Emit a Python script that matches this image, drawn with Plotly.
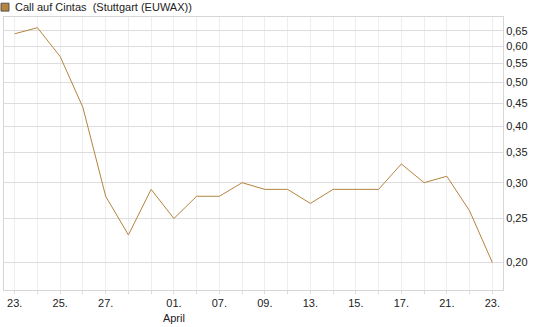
import plotly.graph_objects as go
import math

x_labels = ["23.", "", "25.", "", "27.", "", "", "01.<br>April", "", "07.", "", "09.", "", "13.", "", "15.", "", "17.", "", "21.", "", "23."]
values = [0.64, 0.66, 0.57, 0.44, 0.28, 0.23, 0.29, 0.25, 0.28, 0.28, 0.30, 0.29,
          0.29, 0.27, 0.29, 0.29, 0.29, 0.33, 0.30, 0.31, 0.26, 0.20]
y_ticks = [0.20, 0.25, 0.30, 0.35, 0.40, 0.45, 0.50, 0.55, 0.60, 0.65]
y_ticktext = [f"{v:.2f}".replace(".", ",") for v in y_ticks]
series_name = "Call auf Cintas  (Stuttgart (EUWAX))"

xs = list(range(len(values)))

fig = go.Figure()
fig.add_trace(go.Scatter(x=xs, y=values, mode="lines",
                         line=dict(color="#b5843f", width=1),
                         showlegend=False, hoverinfo="skip"))

fig.update_layout(
    width=545, height=327,
    margin=dict(l=3, r=42, t=17, b=33),
    paper_bgcolor="white", plot_bgcolor="white",
    font=dict(family="Liberation Sans, Arial, sans-serif", size=11, color="#222222"),
    showlegend=False,
)
fig.update_xaxes(
    range=[-0.47, len(values) - 1 + 0.47],
    tickmode="array", tickvals=xs, ticktext=x_labels,
    showgrid=True, gridcolor="#eeeeee", gridwidth=1,
    ticks="outside", ticklen=3, tickcolor="#dddddd",
    showline=True, linecolor="#d6d6d6", linewidth=1, mirror=True,
    zeroline=False, tickfont=dict(size=11),
)
fig.update_yaxes(
    type="log", side="right",
    range=[math.log10(0.1738), math.log10(0.697)],
    tickmode="array", tickvals=y_ticks, ticktext=y_ticktext,
    showgrid=True, gridcolor="#dddddd", gridwidth=1,
    showline=True, linecolor="#d6d6d6", linewidth=1, mirror=True,
    ticks="", zeroline=False, tickfont=dict(size=11),
)

# legend marker and text
fig.add_shape(type="rect", xref="paper", yref="paper",
              x0=-3/500, x1=5/500, y0=1 + (17 - 11) / 277, y1=1 + (17 - 3) / 277,
              fillcolor="#b5843f", line=dict(color="#555555", width=1))
fig.add_annotation(xref="paper", yref="paper", x=9/500, y=1 + (17 - 7) / 277,
                   text=series_name, showarrow=False, xanchor="left", yanchor="middle",
                   font=dict(size=11, color="#222222"))

fig.write_html("out.html")
